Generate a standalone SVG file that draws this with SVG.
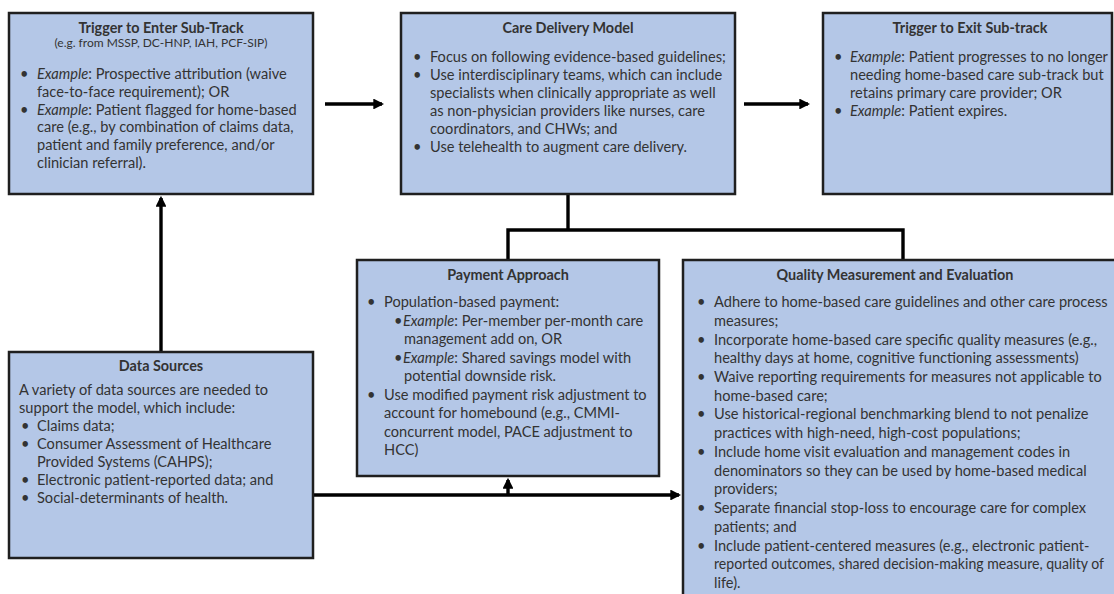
<svg xmlns="http://www.w3.org/2000/svg" width="1114" height="594" viewBox="0 0 1114 594">
<defs>
<style>
.box{fill:#B4C7E7;stroke:#1f1f1f;stroke-width:2.5}
text{font-family:Lato,"Liberation Sans",sans-serif;font-size:14.6px;fill:#333}
.t{font-weight:bold;font-size:14.4px;text-anchor:middle}
.s{font-size:12px;text-anchor:middle}
.i{font-style:italic}
.c{fill:none;stroke:#000;stroke-width:3.4}
</style>
<marker id="ah" viewBox="0 0 10 10" refX="8" refY="5" markerWidth="3.2" markerHeight="3.2" orient="auto-start-reverse" markerUnits="strokeWidth">
<path d="M0,0 L10,5 L0,10 z" fill="#000"/>
</marker>
</defs>
<rect width="1114" height="594" fill="#fff"/>

<g id="connectors">
<line class="c" x1="325" y1="104" x2="382" y2="104" marker-end="url(#ah)"/>
<line class="c" x1="744" y1="104" x2="808" y2="104" marker-end="url(#ah)"/>
<polyline class="c" points="568,195 568,230"/>
<polyline class="c" points="508,260 508,230 903,230 903,260"/>
<line class="c" x1="161" y1="352" x2="161" y2="198" marker-end="url(#ah)"/>
<line class="c" x1="313" y1="495" x2="679" y2="495" marker-end="url(#ah)"/>
<line class="c" x1="508" y1="495" x2="508" y2="480" marker-end="url(#ah)"/>
</g>

<g id="enter">
<rect class="box" x="9" y="13" width="304" height="181"/>
<text class="t" x="161" y="33">Trigger to Enter Sub-Track</text>
<text class="s" x="161" y="47">(e.g. from MSSP, DC-HNP, IAH, PCF-SIP)</text>
<text x="20" y="79">•</text><text x="37" y="79"><tspan class="i">Example</tspan>: Prospective attribution (waive</text>
<text x="37" y="97">face-to-face requirement); OR</text>
<text x="20" y="115">•</text><text x="37" y="115"><tspan class="i">Example</tspan>: Patient flagged for home-based</text>
<text x="37" y="132">care (e.g., by combination of claims data,</text>
<text x="37" y="150">patient and family preference, and/or</text>
<text x="37" y="168">clinician referral).</text>
</g>

<g id="care">
<rect class="box" x="401" y="13" width="334" height="181"/>
<text class="t" x="568" y="33">Care Delivery Model</text>
<text x="413" y="62">•</text><text x="430" y="62">Focus on following evidence-based guidelines;</text>
<text x="413" y="80">•</text><text x="430" y="80">Use interdisciplinary teams, which can include</text>
<text x="430" y="98">specialists when clinically appropriate as well</text>
<text x="430" y="116">as non-physician providers like nurses, care</text>
<text x="430" y="134">coordinators, and CHWs; and</text>
<text x="413" y="152">•</text><text x="430" y="152">Use telehealth to augment care delivery.</text>
</g>

<g id="exit">
<rect class="box" x="823" y="13" width="289" height="181"/>
<text class="t" x="970" y="33">Trigger to Exit Sub-track</text>
<text x="834" y="62">•</text><text x="850" y="62"><tspan class="i">Example</tspan>: Patient progresses to no longer</text>
<text x="850" y="80">needing home-based care sub-track but</text>
<text x="850" y="98">retains primary care provider; OR</text>
<text x="834" y="116">•</text><text x="850" y="116"><tspan class="i">Example</tspan>: Patient expires.</text>
</g>

<g id="payment">
<rect class="box" x="357" y="260" width="302" height="216"/>
<text class="t" x="508" y="280">Payment Approach</text>
<text x="367" y="307">•</text><text x="384" y="307">Population-based payment:</text>
<text x="394" y="325.5">•</text><text x="403" y="325.5"><tspan class="i">Example</tspan>: Per-member per-month care</text>
<text x="404" y="344">management add on, OR</text>
<text x="394" y="362.5">•</text><text x="403" y="362.5"><tspan class="i">Example</tspan>: Shared savings model with</text>
<text x="404" y="381">potential downside risk.</text>
<text x="367" y="399.5">•</text><text x="384" y="399.5">Use modified payment risk adjustment to</text>
<text x="384" y="418">account for homebound (e.g., CMMI-</text>
<text x="384" y="436.5">concurrent model, PACE adjustment to</text>
<text x="384" y="455">HCC)</text>
</g>

<g id="quality">
<rect class="box" x="683" y="260" width="440" height="345"/>
<text class="t" x="895" y="280">Quality Measurement and Evaluation</text>
<text x="697" y="307">•</text><text x="714" y="307">Adhere to home-based care guidelines and other care process</text>
<text x="714" y="325.7">measures;</text>
<text x="697" y="344.5">•</text><text x="714" y="344.5">Incorporate home-based care specific quality measures (e.g.,</text>
<text x="714" y="363.2">healthy days at home, cognitive functioning assessments)</text>
<text x="697" y="381.9">•</text><text x="714" y="381.9">Waive reporting requirements for measures not applicable to</text>
<text x="714" y="400.7">home-based care;</text>
<text x="697" y="419.4">•</text><text x="714" y="419.4">Use historical-regional benchmarking blend to not penalize</text>
<text x="714" y="438.1">practices with high-need, high-cost populations;</text>
<text x="697" y="456.8">•</text><text x="714" y="456.8">Include home visit evaluation and management codes in</text>
<text x="714" y="475.6">denominators so they can be used by home-based medical</text>
<text x="714" y="494.3">providers;</text>
<text x="697" y="513">•</text><text x="714" y="513">Separate financial stop-loss to encourage care for complex</text>
<text x="714" y="531.8">patients; and</text>
<text x="697" y="550.5">•</text><text x="714" y="550.5">Include patient-centered measures (e.g., electronic patient-</text>
<text x="714" y="569.2" textLength="390" lengthAdjust="spacingAndGlyphs">reported outcomes, shared decision-making measure, quality of</text>
<text x="714" y="588">life).</text>
</g>

<g id="data">
<rect class="box" x="9" y="352" width="304" height="206"/>
<text class="t" x="161" y="371">Data Sources</text>
<text x="19" y="395">A variety of data sources are needed to</text>
<text x="19" y="413">support the model, which include:</text>
<text x="21" y="431">•</text><text x="37" y="431">Claims data;</text>
<text x="21" y="449">•</text><text x="37" y="449">Consumer Assessment of Healthcare</text>
<text x="37" y="467">Provided Systems (CAHPS);</text>
<text x="21" y="485">•</text><text x="37" y="485">Electronic patient-reported data; and</text>
<text x="21" y="503">•</text><text x="37" y="503">Social-determinants of health.</text>
</g>
</svg>
